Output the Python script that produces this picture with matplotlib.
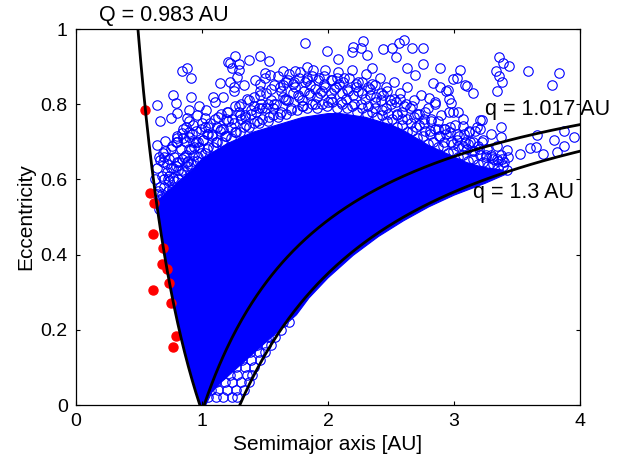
import numpy as np
import matplotlib.pyplot as plt

plt.rcParams['font.family'] = ['Liberation Sans', 'DejaVu Sans']

# outline of the saturated core of the NEA cloud (a [AU], e)
core_a = [0.985, 0.94, 0.90, 0.86, 0.825, 0.79, 0.76, 0.735, 0.71, 0.69, 0.675, 0.66, 0.645,
          0.70, 0.75, 0.80, 0.85, 0.90, 0.95, 1.0, 1.1, 1.2, 1.3, 1.4, 1.5, 1.6, 1.7, 1.8, 1.9,
          2.0, 2.1, 2.2, 2.3, 2.4, 2.5, 2.6, 2.7, 2.8, 2.9, 3.0, 3.1, 3.2, 3.3, 3.38,
          3.42, 3.25, 3.0, 2.8, 2.6, 2.4, 2.2, 2.0, 1.85, 1.75,
          1.65, 1.55, 1.45, 1.35, 1.25, 1.15, 1.08, 1.03]
core_e = [0.0, 0.05, 0.10, 0.15, 0.20, 0.25, 0.30, 0.35, 0.40, 0.44, 0.46, 0.50, 0.54,
          0.56, 0.575, 0.59, 0.605, 0.62, 0.635, 0.655, 0.675, 0.695, 0.71, 0.725, 0.735, 0.745,
          0.755, 0.765, 0.77, 0.775, 0.775, 0.77, 0.765, 0.755, 0.745, 0.73, 0.71, 0.69, 0.675,
          0.66, 0.645, 0.635, 0.628, 0.625,
          0.615, 0.59, 0.558, 0.527, 0.49, 0.448, 0.398, 0.338, 0.285, 0.24,
          0.21, 0.18, 0.15, 0.12, 0.09, 0.06, 0.035, 0.0]

# overlapping orbits hugging the top of the core (three layers)
edge_a = [0.66, 0.68, 0.71, 0.73, 0.76, 0.78, 0.81, 0.83, 0.86, 0.88, 0.91, 0.93, 0.96, 0.99,
          1.02, 1.05, 1.09, 1.12, 1.16, 1.19, 1.23, 1.26, 1.30, 1.33, 1.37, 1.41, 1.45, 1.48,
          1.52, 1.56, 1.60, 1.63, 1.67, 1.71, 1.75, 1.79, 1.83, 1.87, 1.91, 1.95, 1.99, 2.03,
          2.07, 2.11, 2.15, 2.19, 2.23, 2.27, 2.31, 2.35, 2.39, 2.43, 2.47, 2.51, 2.55, 2.59,
          2.63, 2.67, 2.71, 2.75, 2.79, 2.83, 2.87, 2.91, 2.95, 2.99, 3.03, 3.07, 3.11, 3.15,
          3.19, 3.23, 3.27, 3.31, 3.35, 3.39, 3.42,
          0.64, 0.67, 0.70, 0.74, 0.77, 0.80, 0.84, 0.87, 0.90, 0.94, 0.97, 1.01, 1.04, 1.08,
          1.12, 1.17, 1.21, 1.25, 1.30, 1.34, 1.39, 1.43, 1.47, 1.51, 1.55, 1.59, 1.64, 1.68,
          1.72, 1.77, 1.81, 1.86, 1.90, 1.94, 1.98, 2.02, 2.06, 2.11, 2.15, 2.20, 2.24, 2.29,
          2.33, 2.37, 2.42, 2.46, 2.50, 2.55, 2.59, 2.63, 2.68, 2.72, 2.76, 2.81, 2.85, 2.89,
          2.94, 2.98, 3.02, 3.07, 3.11, 3.16, 3.20, 3.25, 3.29, 3.34, 3.38,
          0.70, 0.75, 0.80, 0.85, 0.90, 0.95, 1.00, 1.05, 1.10, 1.15, 1.20, 1.26, 1.31, 1.36,
          1.41, 1.46, 1.51, 1.57, 1.62, 1.67, 1.72, 1.77, 1.82, 1.87, 1.92, 1.97, 2.02, 2.07,
          2.12, 2.17, 2.22, 2.27, 2.32, 2.37, 2.42, 2.47, 2.52, 2.57, 2.62, 2.67, 2.72, 2.77,
          2.82, 2.87, 2.92, 2.97, 3.02, 3.08, 3.13]
edge_e = [0.520, 0.550, 0.545, 0.570, 0.575, 0.595, 0.600, 0.615, 0.620, 0.635, 0.640, 0.650,
          0.650, 0.670, 0.670, 0.685, 0.685, 0.700, 0.700, 0.715, 0.710, 0.725, 0.725, 0.740,
          0.740, 0.750, 0.750, 0.760, 0.755, 0.770, 0.765, 0.780, 0.775, 0.790, 0.785, 0.795,
          0.790, 0.800, 0.790, 0.800, 0.795, 0.805, 0.790, 0.800, 0.790, 0.795, 0.780, 0.790,
          0.775, 0.780, 0.765, 0.770, 0.755, 0.760, 0.740, 0.745, 0.725, 0.730, 0.710, 0.715,
          0.695, 0.700, 0.685, 0.690, 0.670, 0.675, 0.660, 0.665, 0.650, 0.655, 0.640, 0.645,
          0.635, 0.640, 0.630, 0.635, 0.625,
          0.560, 0.580, 0.600, 0.610, 0.630, 0.645, 0.655, 0.665, 0.680, 0.685, 0.700, 0.705,
          0.720, 0.720, 0.740, 0.735, 0.755, 0.750, 0.770, 0.765, 0.785, 0.780, 0.800, 0.790,
          0.810, 0.800, 0.820, 0.810, 0.830, 0.820, 0.835, 0.825, 0.840, 0.830, 0.845, 0.830,
          0.845, 0.830, 0.840, 0.825, 0.835, 0.815, 0.825, 0.805, 0.810, 0.790, 0.800, 0.775,
          0.780, 0.760, 0.765, 0.745, 0.750, 0.730, 0.735, 0.715, 0.720, 0.700, 0.705, 0.690,
          0.695, 0.675, 0.680, 0.665, 0.665, 0.655, 0.655,
          0.660, 0.680, 0.700, 0.710, 0.725, 0.730, 0.750, 0.740, 0.760, 0.775, 0.780, 0.795,
          0.800, 0.815, 0.820, 0.835, 0.830, 0.850, 0.845, 0.860, 0.855, 0.870, 0.860, 0.875,
          0.865, 0.875, 0.865, 0.870, 0.860, 0.870, 0.855, 0.860, 0.845, 0.850, 0.830, 0.835,
          0.815, 0.815, 0.800, 0.795, 0.775, 0.780, 0.760, 0.755, 0.735, 0.740, 0.720, 0.720,
          0.700]

# looser orbits further out on the fringe
fringe_a = [0.63, 0.64, 0.65, 0.66, 0.67, 0.68, 0.69, 0.70, 0.71, 0.72, 0.73, 0.74, 0.75, 0.76,
            0.77, 0.78, 0.79, 0.80, 0.82, 0.83, 0.84, 0.85, 0.86, 0.87, 0.89, 0.90, 0.91, 0.92,
            0.94, 0.95, 0.96, 0.98, 0.99, 1.01, 1.03, 1.04, 1.06, 1.08, 1.10, 1.11, 1.13, 1.15,
            1.17, 1.18, 1.21, 1.23, 1.25, 1.27, 1.29, 1.31, 1.33, 1.35, 1.37, 1.39, 1.42, 1.44,
            1.46, 1.48, 1.50, 1.53, 1.55, 1.57, 1.60, 1.62, 1.64, 1.66, 1.69, 1.71, 1.73, 1.76,
            1.78, 1.80, 1.83, 1.85, 1.88, 1.90, 1.93, 1.95, 1.98, 2.00, 2.03, 2.05, 2.08, 2.10,
            2.13, 2.16, 2.19, 2.21, 2.24, 2.27, 2.30, 2.32, 2.35, 2.38, 2.41, 2.43, 2.46, 2.49,
            2.52, 2.55, 2.57, 2.60, 2.63, 2.66, 2.68, 2.71, 2.74, 2.77, 2.79, 2.82, 2.85, 2.88,
            2.90, 2.93, 2.96, 2.99, 3.01, 3.04, 3.07, 3.10, 3.12, 3.15, 3.18, 3.21, 3.23, 3.26,
            3.29, 3.31, 3.34, 3.37, 3.40, 3.43,
            0.68, 0.74, 0.81, 0.88, 0.97, 1.05, 1.14, 1.24, 1.34, 1.45, 1.56, 1.67, 1.79, 1.91,
            2.02, 2.14, 2.26, 2.37, 2.48, 2.59, 2.70, 2.81, 2.92, 3.03, 3.14, 3.25, 3.35,
            0.72, 0.79, 0.93, 1.02, 1.19, 1.29, 1.41, 1.52, 1.63, 1.74, 1.86, 1.97, 2.09, 2.22,
            2.33, 2.44, 2.54, 2.65, 2.76, 2.87, 2.97, 3.09, 3.19, 3.30]
fringe_e = [0.600, 0.630, 0.570, 0.660, 0.530, 0.610, 0.645, 0.580, 0.675, 0.620, 0.600, 0.655,
            0.630, 0.690, 0.605, 0.660, 0.635, 0.715, 0.645, 0.680, 0.625, 0.735, 0.660, 0.700,
            0.650, 0.755, 0.680, 0.720, 0.665, 0.700, 0.770, 0.685, 0.735, 0.705, 0.785, 0.680,
            0.750, 0.715, 0.805, 0.700, 0.765, 0.735, 0.820, 0.715, 0.780, 0.740, 0.835, 0.725,
            0.795, 0.760, 0.850, 0.745, 0.810, 0.775, 0.865, 0.755, 0.825, 0.790, 0.870, 0.765,
            0.840, 0.800, 0.875, 0.775, 0.850, 0.815, 0.880, 0.785, 0.860, 0.825, 0.885, 0.795,
            0.865, 0.830, 0.890, 0.800, 0.870, 0.835, 0.890, 0.805, 0.865, 0.840, 0.885, 0.805,
            0.870, 0.835, 0.890, 0.800, 0.860, 0.830, 0.880, 0.795, 0.855, 0.820, 0.870, 0.785,
            0.845, 0.810, 0.860, 0.770, 0.830, 0.795, 0.845, 0.750, 0.810, 0.775, 0.825, 0.730,
            0.790, 0.755, 0.800, 0.715, 0.770, 0.735, 0.780, 0.695, 0.745, 0.715, 0.760, 0.680,
            0.725, 0.700, 0.740, 0.665, 0.705, 0.680, 0.720, 0.655, 0.690, 0.665, 0.645, 0.660,
            0.560, 0.595, 0.625, 0.645, 0.660, 0.720, 0.730, 0.760, 0.770, 0.790, 0.790, 0.810,
            0.810, 0.820, 0.815, 0.815, 0.800, 0.790, 0.775, 0.760, 0.740, 0.720, 0.700, 0.690,
            0.675, 0.660, 0.650,
            0.640, 0.700, 0.700, 0.740, 0.760, 0.780, 0.795, 0.800, 0.835, 0.845, 0.850, 0.855,
            0.855, 0.845, 0.840, 0.825, 0.805, 0.790, 0.760, 0.735, 0.725, 0.700, 0.690, 0.660]

# lower edge, between q = 1.017 AU and q = 1.3 AU: eccentricity of each row and its semimajor axes
low_e = [0.22, 0.20, 0.18, 0.16, 0.14, 0.12, 0.10, 0.08, 0.06, 0.04, 0.02]
low_a = [
    [1.58, 1.64, 1.69],
    [1.51, 1.57, 1.63],
    [1.45, 1.52, 1.58],
    [1.37, 1.44, 1.51, 1.55],
    [1.31, 1.38, 1.45, 1.50],
    [1.25, 1.32, 1.39, 1.46],
    [1.19, 1.27, 1.34, 1.41],
    [1.15, 1.22, 1.28, 1.36, 1.40],
    [1.11, 1.18, 1.24, 1.31, 1.37],
    [1.07, 1.13, 1.20, 1.27, 1.33],
    [1.05, 1.11, 1.17, 1.24, 1.28],
]

# scattered objects at the edge of the cloud
sparse_a = [0.64, 0.77, 0.79, 0.84, 0.88, 0.91, 0.91, 0.90, 0.88, 0.75, 0.67, 0.80, 0.98, 1.02, 0.87,
            0.93, 0.84, 0.64, 0.71, 0.80, 0.90, 0.69, 0.67,
            1.09, 1.14, 1.22, 1.25, 1.21, 1.24, 1.22, 1.29, 1.26, 1.28, 1.29, 1.37, 1.46, 1.53, 1.50,
            1.54, 1.46, 1.64, 1.74, 1.68, 1.82, 1.83, 1.83, 1.99, 2.08, 2.19, 2.20, 2.26, 2.28, 2.31,
            2.35, 2.44, 2.51, 2.54, 2.56, 2.60, 2.63, 2.67, 2.75, 2.75, 2.69, 2.89, 2.83, 2.89, 2.94,
            2.80, 2.85, 3.05, 2.99, 3.10, 3.15, 2.95, 2.96, 2.99, 3.02, 3.09, 3.36, 3.39, 3.44, 3.33,
            3.36, 3.38, 3.34, 3.59, 3.83, 3.78, 3.22, 3.37, 3.07, 3.12, 3.17, 3.21, 3.37, 3.66, 3.79,
            3.87, 3.95, 3.87, 3.82, 3.71, 3.65, 3.60, 3.52, 3.42, 3.22, 3.03, 2.98, 3.21]
sparse_e = [0.798, 0.824, 0.803, 0.888, 0.897, 0.870, 0.819, 0.785, 0.763, 0.763, 0.755, 0.777, 0.795,
            0.763, 0.739, 0.745, 0.723, 0.691, 0.702, 0.710, 0.713, 0.670, 0.652,
            0.820, 0.856, 0.859, 0.846, 0.912, 0.896, 0.909, 0.906, 0.928, 0.872, 0.891, 0.918, 0.928,
            0.915, 0.883, 0.878, 0.854, 0.888, 0.888, 0.864, 0.963, 0.900, 0.870, 0.941, 0.920, 0.939,
            0.952, 0.949, 0.968, 0.931, 0.896, 0.947, 0.949, 0.926, 0.963, 0.971, 0.896, 0.949, 0.949,
            0.907, 0.878, 0.896, 0.856, 0.846, 0.835, 0.816, 0.806, 0.891, 0.867, 0.848, 0.830, 0.838,
            0.814, 0.779, 0.870, 0.851, 0.926, 0.910, 0.902, 0.888, 0.875, 0.859, 0.835, 0.888, 0.883,
            0.851, 0.758, 0.739, 0.742, 0.730, 0.728, 0.735, 0.713, 0.718, 0.705, 0.729, 0.713, 0.689,
            0.673, 0.668, 0.686, 0.683, 0.668, 0.678, 0.700, 0.779, 0.803, 0.758]

# Atira asteroids (entirely inside Earth's orbit)
atira_a = [0.548, 0.587, 0.620, 0.610, 0.690, 0.680, 0.720, 0.740, 0.610, 0.750, 0.790, 0.770]
atira_e = [0.785, 0.564, 0.537, 0.455, 0.418, 0.375, 0.362, 0.324, 0.306, 0.271, 0.183, 0.155]

# limiting perihelion / aphelion distances [AU]
Q_lim = 0.983
q_lims = [1.017, 1.3]

x_ticks = [0, 1, 2, 3, 4]
x_labels = ['0', '1', '2', '3', '4']
y_ticks = [0, 0.2, 0.4, 0.6, 0.8, 1.0]
y_labels = ['0', '0.2', '0.4', '0.6', '0.8', '1']

fig = plt.figure(figsize=(6.21, 4.59), dpi=100)
ax = fig.add_axes([76 / 621, 54 / 459, 504 / 621, 376 / 459])

ax.fill(core_a, core_e, color='blue', lw=0.8, zorder=1)

low_x = [a for row in low_a for a in row]
low_y = [e for e, row in zip(low_e, low_a) for a in row]
circ = dict(ls='none', marker='o', ms=6.8, mfc='none', mec='blue', mew=0.8, zorder=2)
ax.plot(edge_a, edge_e, **circ)
ax.plot(fringe_a, fringe_e, **circ)
ax.plot(low_x, low_y, **circ)
ax.plot(sparse_a, sparse_e, **circ)
ax.plot(atira_a, atira_e, 'o', ms=6.5, mfc='red', mec='red', zorder=3)

# curves of constant aphelion / perihelion
aQ = np.linspace(Q_lim / 2, Q_lim, 200)
ax.plot(aQ, Q_lim / aQ - 1, 'k-', lw=2, zorder=4)
for q in q_lims:
    aq = np.linspace(q, 4, 300)
    ax.plot(aq, 1 - q / aq, 'k-', lw=2, zorder=4)

ax.text(0.694, 1.035, 'Q = 0.983 AU', fontsize=15.5, ha='center', va='center', clip_on=False)
ax.text(3.246, 0.785, 'q = 1.017 AU', fontsize=15.5, ha='left', va='center', clip_on=False)
ax.text(3.15, 0.564, 'q = 1.3 AU', fontsize=15.5, ha='left', va='center', clip_on=False)

ax.set_xlim(0, 4)
ax.set_ylim(0, 1)
ax.set_xticks(x_ticks)
ax.set_xticklabels(x_labels)
ax.set_yticks(y_ticks)
ax.set_yticklabels(y_labels)
ax.tick_params(direction='in', length=3, width=0.8, top=True, right=True, labelsize=14, pad=6)
for s in ax.spines.values():
    s.set_linewidth(0.9)
ax.set_xlabel('Semimajor axis [AU]', fontsize=15, labelpad=3)
ax.set_ylabel('Eccentricity', fontsize=15, labelpad=4)

fig.savefig('out.png', dpi=100)
